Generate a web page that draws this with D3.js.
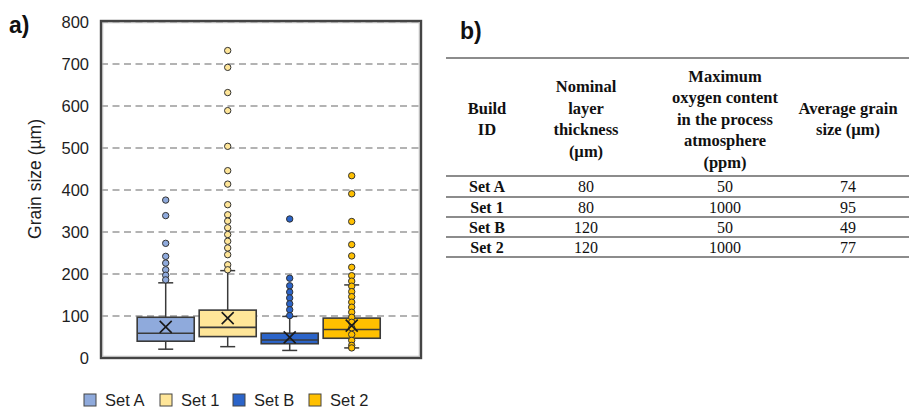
<!DOCTYPE html>
<html>
<head>
<meta charset="utf-8">
<script src="https://cdn.jsdelivr.net/npm/d3@7"></script>
<style>
  html, body { margin: 0; padding: 0; background: #fff; }
  svg { display: block; }
</style>
</head>
<body>
<svg id="chart" width="909" height="410"></svg>
<script>
// ---- Box plot data (grain size, µm) ----
const sets = ["Set A", "Set 1", "Set B", "Set 2"];
const colors = ["#8FAADC", "#FFE699", "#2B64C9", "#FFC000"];
const whiskerLow = [21, 27, 18, 24];
const q1 = [40, 51, 34, 47];
const median = [59, 73, 43, 68];
const q3 = [97, 114, 59, 95];
const whiskerHigh = [179, 208, 99, 174];
const means = [74, 95, 49, 77];
const outliersA = [376, 339, 273, 242, 226, 210, 197, 186];
const outliers1 = [732, 692, 632, 589, 504, 446, 414, 365, 341, 326, 310, 294, 278, 262, 246, 222, 210];
const outliersB = [331, 190, 172, 157, 143, 129, 115, 101];
const outliers2 = [434, 391, 325, 270, 243, 216, 196, 183, 171, 158, 146, 133, 121, 109, 97, 85, 72, 56, 42, 30, 24];
const outliers = [outliersA, outliers1, outliersB, outliers2];
const yTicks = [0, 100, 200, 300, 400, 500, 600, 700, 800];

// ---- Table data ----
const tableHeaders = [
  ["Build", "ID"],
  ["Nominal", "layer", "thickness", "(µm)"],
  ["Maximum", "oxygen content", "in the process", "atmosphere", "(ppm)"],
  ["Average grain", "size (µm)"]
];
const layerThickness = ["80", "80", "120", "120"];
const oxygenContent = ["50", "1000", "50", "1000"];
const avgGrain = ["74", "95", "49", "77"];

const svg = d3.select("#chart");

// ---------------- Panel a) box plot ----------------
const plot = { left: 101, right: 421, top: 22, bottom: 358 };
const y = d3.scaleLinear().domain([0, 800]).range([plot.bottom, plot.top]);
const x = d3.scaleBand().domain(sets).range([134.7, 382.7]).paddingInner(0.08).paddingOuter(0.04);

// dashed gridlines
svg.append("g")
  .selectAll("line")
  .data(yTicks.filter(d => d > 0))
  .join("line")
  .attr("x1", plot.left).attr("x2", plot.right)
  .attr("y1", d => y(d)).attr("y2", d => y(d))
  .attr("stroke", "#9a9a9a").attr("stroke-width", 1.6)
  .attr("stroke-dasharray", "7,4.5");

// y axis tick labels
const yAxis = d3.axisLeft(y).tickValues(yTicks).tickSize(0).tickPadding(0);
const yg = svg.append("g").attr("transform", `translate(${plot.left - 12},0)`).call(yAxis);
yg.select(".domain").remove();
yg.selectAll("text")
  .attr("font-family", "Liberation Sans, Arial, sans-serif")
  .attr("font-size", 16.5).attr("fill", "#1e1e1e");

// axis title
svg.append("text")
  .attr("transform", `translate(41,${(plot.top + plot.bottom) / 2 - 11}) rotate(-90)`)
  .attr("text-anchor", "middle")
  .attr("font-family", "Liberation Sans, Arial, sans-serif")
  .attr("font-size", 17.5).attr("fill", "#1e1e1e")
  .text("Grain size (µm)");

// panel label
svg.append("text").attr("x", 9).attr("y", 33)
  .attr("font-family", "Liberation Sans, Arial, sans-serif")
  .attr("font-size", 23).attr("font-weight", "bold").attr("fill", "#111")
  .text("a)");

const boxes = svg.append("g").selectAll("g")
  .data(sets.map((s, i) => ({ s, i })))
  .join("g");

const cx = d => x(d.s) + x.bandwidth() / 2;
const capHalf = 7.5;
const stroke = "#3a3a3a";

// whiskers
boxes.append("line")
  .attr("x1", cx).attr("x2", cx)
  .attr("y1", d => y(whiskerLow[d.i])).attr("y2", d => y(q1[d.i]))
  .attr("stroke", stroke).attr("stroke-width", 1.5);
boxes.append("line")
  .attr("x1", cx).attr("x2", cx)
  .attr("y1", d => y(q3[d.i])).attr("y2", d => y(whiskerHigh[d.i]))
  .attr("stroke", stroke).attr("stroke-width", 1.5);
boxes.append("line")
  .attr("x1", d => cx(d) - capHalf).attr("x2", d => cx(d) + capHalf)
  .attr("y1", d => y(whiskerLow[d.i])).attr("y2", d => y(whiskerLow[d.i]))
  .attr("stroke", stroke).attr("stroke-width", 1.5);
boxes.append("line")
  .attr("x1", d => cx(d) - capHalf).attr("x2", d => cx(d) + capHalf)
  .attr("y1", d => y(whiskerHigh[d.i])).attr("y2", d => y(whiskerHigh[d.i]))
  .attr("stroke", stroke).attr("stroke-width", 1.5);

// boxes
boxes.append("rect")
  .attr("x", d => x(d.s)).attr("width", x.bandwidth())
  .attr("y", d => y(q3[d.i])).attr("height", d => y(q1[d.i]) - y(q3[d.i]))
  .attr("fill", d => colors[d.i])
  .attr("stroke", stroke).attr("stroke-width", 1.6);

// medians
boxes.append("line")
  .attr("x1", d => x(d.s)).attr("x2", d => x(d.s) + x.bandwidth())
  .attr("y1", d => y(median[d.i])).attr("y2", d => y(median[d.i]))
  .attr("stroke", stroke).attr("stroke-width", 1.6);

// outlier / point markers
boxes.each(function (d) {
  d3.select(this).selectAll("circle")
    .data(outliers[d.i])
    .join("circle")
    .attr("cx", cx(d)).attr("cy", v => y(v)).attr("r", 3.2)
    .attr("fill", colors[d.i])
    .attr("stroke", "#333").attr("stroke-width", 1);
});

// mean markers (X)
const mh = 6;
boxes.append("path")
  .attr("d", d => {
    const px = cx(d), py = y(means[d.i]);
    return `M${px - mh},${py - mh}L${px + mh},${py + mh}M${px - mh},${py + mh}L${px + mh},${py - mh}`;
  })
  .attr("stroke", "#1a1a1a").attr("stroke-width", 1.6).attr("fill", "none");

// plot frame
svg.append("rect")
  .attr("x", plot.left).attr("y", plot.top - 1)
  .attr("width", plot.right - plot.left).attr("height", plot.bottom - plot.top + 1)
  .attr("fill", "none").attr("stroke", "#444").attr("stroke-width", 2.4);
svg.append("rect")
  .attr("x", plot.left + 1.8).attr("y", plot.top + 0.8)
  .attr("width", plot.right - plot.left - 3.6).attr("height", plot.bottom - plot.top - 2.6)
  .attr("fill", "none").attr("stroke", "#aaa").attr("stroke-width", 0.8);

// legend
const legendX = [84, 160, 233, 309];
const legend = svg.append("g").selectAll("g")
  .data(sets.map((s, i) => ({ s, i })))
  .join("g")
  .attr("transform", d => `translate(${legendX[d.i]},400)`);
legend.append("rect")
  .attr("x", 0).attr("y", -6).attr("width", 12).attr("height", 12)
  .attr("fill", d => colors[d.i]).attr("stroke", "#444").attr("stroke-width", 1);
legend.append("text")
  .attr("x", 21).attr("y", 6)
  .attr("font-family", "Liberation Sans, Arial, sans-serif")
  .attr("font-size", 16.5).attr("fill", "#1e1e1e")
  .text(d => d.s);

// ---------------- Panel b) table ----------------
svg.append("text").attr("x", 460).attr("y", 39)
  .attr("font-family", "Liberation Sans, Arial, sans-serif")
  .attr("font-size", 23).attr("font-weight", "bold").attr("fill", "#111")
  .text("b)");

const colX = [487, 586, 725, 848];
const serif = "Liberation Serif, Times New Roman, serif";
const ruleY = [58, 176, 197, 217, 237, 257];

svg.append("g").selectAll("line")
  .data(ruleY)
  .join("line")
  .attr("x1", 446).attr("x2", 909)
  .attr("y1", d => d).attr("y2", d => d)
  .attr("stroke", "#8c8c8c").attr("stroke-width", 2);

const lineH = 21.5, headCenter = 119;
const head = svg.append("g").selectAll("text")
  .data(tableHeaders)
  .join("text")
  .attr("text-anchor", "middle")
  .attr("font-family", serif).attr("font-size", 16.5).attr("font-weight", "bold")
  .attr("fill", "#111");
head.each(function (lines, c) {
  d3.select(this).selectAll("tspan")
    .data(lines)
    .join("tspan")
    .attr("x", colX[c])
    .attr("y", (t, k) => headCenter - (lines.length - 1) / 2 * lineH + k * lineH + 5.5)
    .text(t => t);
});

const rows = sets.map((s, i) => [s, layerThickness[i], oxygenContent[i], avgGrain[i]]);
const rowG = svg.append("g").selectAll("g")
  .data(rows)
  .join("g");
rowG.each(function (r, i) {
  const cy = (ruleY[i + 1] + ruleY[i + 2]) / 2 + 5.5;
  d3.select(this).selectAll("text")
    .data(r)
    .join("text")
    .attr("x", (t, c) => colX[c]).attr("y", cy)
    .attr("text-anchor", "middle")
    .attr("font-family", serif).attr("font-size", 16)
    .attr("font-weight", (t, c) => c === 0 ? "bold" : "normal")
    .attr("fill", "#111")
    .text(t => t);
});
</script>
</body>
</html>
